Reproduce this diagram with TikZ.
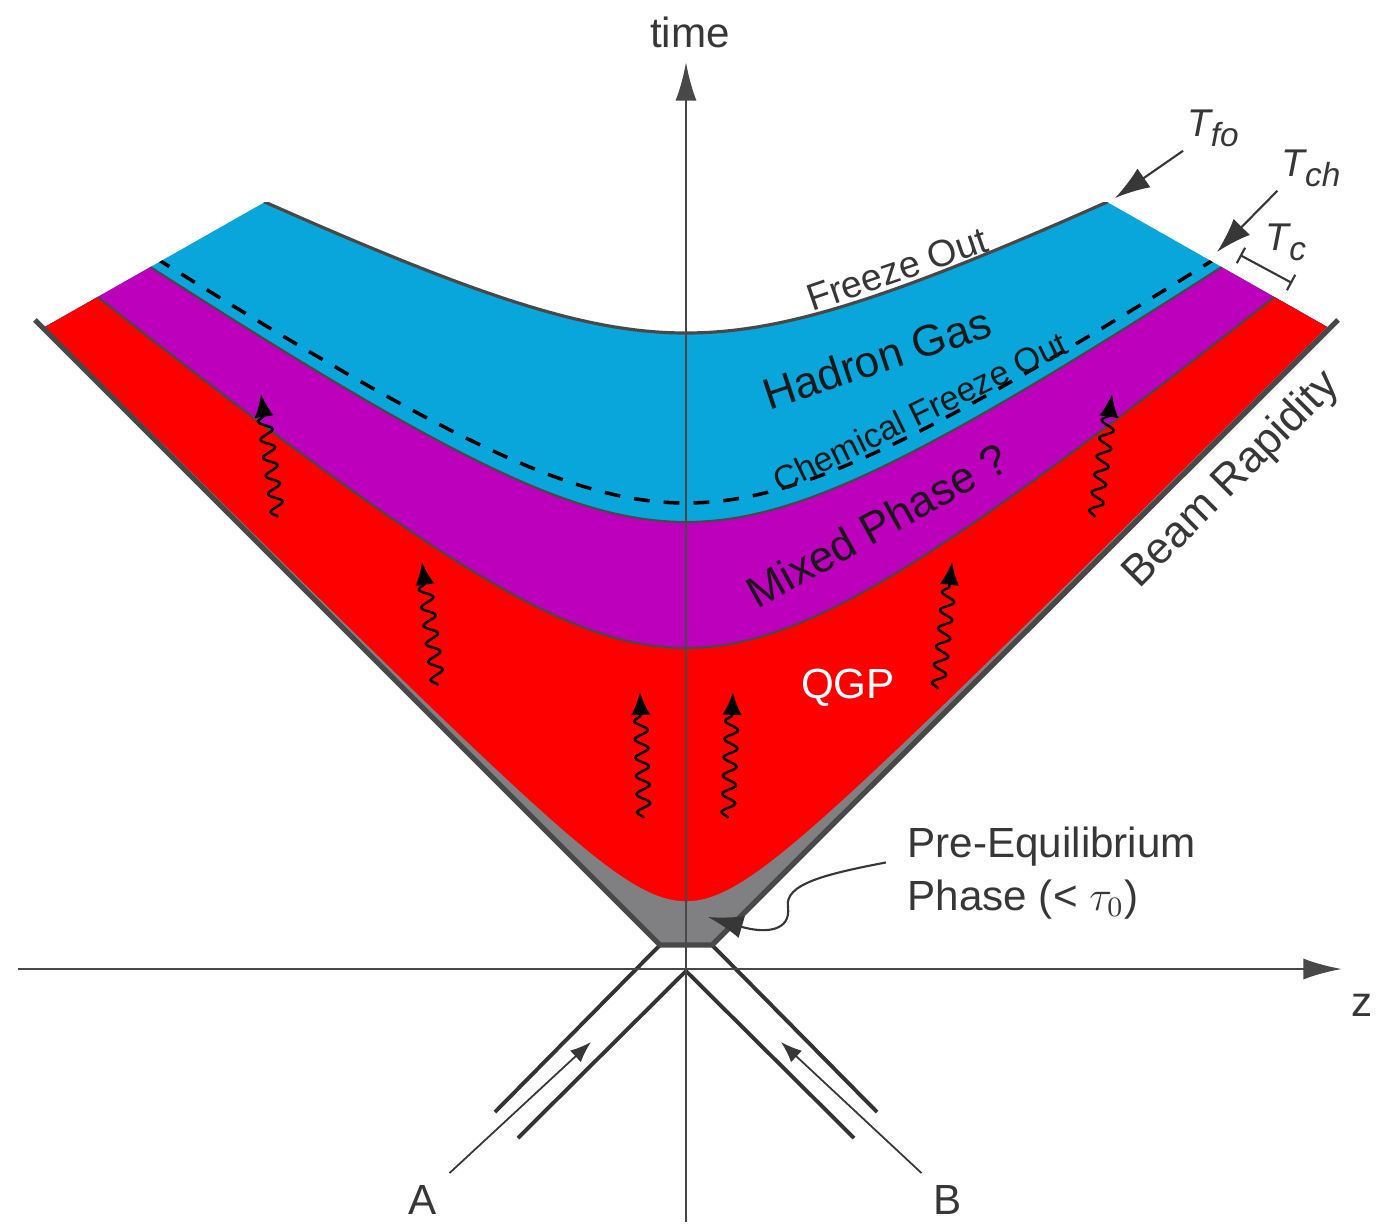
\documentclass[tikz,border=0pt]{standalone}
\usepackage{fontspec}
\setmainfont{Liberation Sans}
\usetikzlibrary{arrows.meta,decorations.pathmorphing}
\definecolor{hgcyan}{RGB}{8,166,218}
\definecolor{mixpurple}{RGB}{188,0,188}
\definecolor{qgpred}{RGB}{255,0,0}
\definecolor{preqgray}{RGB}{128,128,130}
\definecolor{edgegray}{RGB}{72,72,72}
\definecolor{labelgray}{RGB}{55,55,55}

\begin{document}
\begin{tikzpicture}[font=\fontsize{12}{15}\selectfont,
  declare function={tfo(\x)=6.36+0.492*(sqrt(\x*\x+4)-2);
    tch(\x)=4.66+0.668*(sqrt(\x*\x+4)-2);
    tcrit(\x)=4.47+0.686*(sqrt(\x*\x+4)-2);
    tqgp(\x)=3.21+0.833*(sqrt(\x*\x+4)-2);
    tpre(\x)=sqrt(\x*\x+0.5)-0.03;},
  boundary/.style={draw=edgegray,line width=0.6pt},
  beam/.style={draw=black!80,line width=1.1pt},
  axis/.style={draw=edgegray,line width=0.8pt,-{Latex[length=11pt,width=6pt]}},
  pointer/.style={draw=labelgray,line width=0.6pt,-{Latex[length=10pt,width=6.5pt]}},
  photon/.style={-{Latex[length=6.5pt,width=5.5pt]},line width=0.7pt,decorate,
    decoration={snake,amplitude=1.9pt,segment length=5.2pt,post length=6pt}}]
\useasboundingbox (-6.86,-2.54) rectangle (7.03,9.69);
% the evolution bands
\begin{scope}
\clip (-6.43,6.41) -- (-4.21,7.67) -- (4.21,7.67) -- (6.43,6.41) -- (0.26,0.24) -- (-0.26,0.24) -- cycle;
\fill[hgcyan] plot[domain=-6.6:6.6,samples=80,smooth] (\x,{tfo(\x)}) -- (6.6,-0.5) -- (-6.6,-0.5) -- cycle;
\fill[mixpurple] plot[domain=-6.6:6.6,samples=80,smooth] (\x,{tcrit(\x)}) -- (6.6,-0.5) -- (-6.6,-0.5) -- cycle;
\fill[qgpred] plot[domain=-6.6:6.6,samples=80,smooth] (\x,{tqgp(\x)}) -- (6.6,-0.5) -- (-6.6,-0.5) -- cycle;
\fill[preqgray] plot[domain=-6.6:6.6,samples=121,smooth] (\x,{tpre(\x)}) -- (6.6,-0.5) -- (-6.6,-0.5) -- cycle;
\draw[boundary] plot[domain=-6.6:6.6,samples=80,smooth] (\x,{tqgp(\x)});
\draw[boundary] plot[domain=-6.6:6.6,samples=80,smooth] (\x,{tcrit(\x)});
\draw[black,line width=1pt,dash pattern=on 4.5pt off 4pt] plot[domain=-5.3:5.3,samples=80,smooth] (\x,{tch(\x)});
\draw[edgegray,line width=0.9pt] plot[domain=-4.3:4.3,samples=80,smooth] (\x,{tfo(\x)});
\end{scope}
% incoming nuclei
\draw[beam] (-0.26,0.24) -- (-1.91,-1.43);
\draw[beam] (0,-0.02) -- (-1.68,-1.69);
\draw[beam] (0.26,0.24) -- (1.91,-1.43);
\draw[beam] (0,-0.02) -- (1.68,-1.69);
% light cone
\draw[edgegray,line width=1.5pt,line join=round] (-6.51,6.49) -- (-0.26,0.24) -- (0.26,0.24) -- (6.52,6.49);
% axes
\draw[axis] (0,-2.53) -- (0,9.07);
\draw[axis] (-6.68,0) -- (6.56,0);
\node[text=labelgray] (time) at (0.04,9.37) {time};
\node[text=labelgray] (zlbl) at (6.76,-0.36) {z};
% photons
\draw[photon] (-4.08,4.52) -- (-4.25,5.75);
\draw[photon] (-2.48,2.84) -- (-2.64,4.07);
\draw[photon] (-0.42,1.51) -- (-0.46,2.77);
\draw[photon] (0.42,1.51) -- (0.47,2.77);
\draw[photon] (2.52,2.80) -- (2.66,4.07);
\draw[photon] (4.09,4.52) -- (4.26,5.75);
% phase labels
\node[rotate=19,text=labelgray,font=\fontsize{10.7}{12}\selectfont] (fo) at (2.11,7.0) {Freeze Out};
\node[rotate=18.5,text=black!90,font=\fontsize{12.5}{14}\selectfont] (hg) at (1.91,6.11) {Hadron Gas};
\node[rotate=26,text=black!90,font=\fontsize{9.7}{11}\selectfont] (cfo) at (2.34,5.57) {Chemical Freeze Out};
\node[rotate=29,text=black!90,font=\fontsize{12.5}{14}\selectfont] (mix) at (1.91,4.44) {Mixed Phase ?};
\node[text=white] (qgp) at (1.62,2.81) {QGP};
\node[rotate=45,text=labelgray,font=\fontsize{12.5}{14}\selectfont] (beamrap) at (5.46,4.89) {Beam Rapidity};
% temperatures
\node[text=labelgray,font=\fontsize{11}{12}\itshape,inner sep=1pt] (lblfo) at (5.27,8.41) {T\raisebox{-0.5ex}{\fontsize{9.5}{10}\selectfont fo}};
\node[text=labelgray,font=\fontsize{11}{12}\itshape,inner sep=1pt] (lblch) at (6.25,8.01) {T\raisebox{-0.5ex}{\fontsize{9.5}{10}\selectfont ch}};
\node[text=labelgray,font=\fontsize{11}{12}\itshape,inner sep=0pt] (lblc) at (6.0,7.27) {T\raisebox{-0.5ex}{\fontsize{9.5}{10}\selectfont c}};
\coordinate (fotip) at (4.29,7.71);
\coordinate (chtip) at (5.31,7.17);
\draw[pointer] (lblfo.south west) -- (fotip);
\draw[pointer] (lblch.south west) -- (chtip);
\coordinate (tcA) at (5.54,7.14);
\coordinate (tcB) at (6.06,6.86);
\draw[labelgray,line width=0.6pt,{Bar[width=5pt]}-{Bar[width=5pt]}] (tcA) -- (tcB);
% pre-equilibrium
\node[text=labelgray,align=left,anchor=west,inner sep=0pt] (preeq) at (2.21,0.96) {Pre-Equilibrium\\Phase (< $\tau_0$)};
\coordinate (pretip) at (0.22,0.52);
\draw[pointer] ([xshift=-6pt,yshift=3pt]preeq.west) .. controls (1.4,0.95) and (0.98,0.85) .. (1.02,0.62)
  .. controls (1.05,0.38) and (0.8,0.35) .. (pretip);
% nuclei A and B
\node[text=labelgray] (A) at (-2.63,-2.31) {A};
\node[text=labelgray] (B) at (2.62,-2.31) {B};
\coordinate (atip) at (-0.95,-0.73);
\coordinate (btip) at (0.95,-0.73);
\draw[labelgray,line width=0.5pt,-{Latex[length=6pt,width=4.5pt]}] (A.north east) -- (atip);
\draw[labelgray,line width=0.5pt,-{Latex[length=6pt,width=4.5pt]}] (B.north west) -- (btip);
\end{tikzpicture}
\end{document}
